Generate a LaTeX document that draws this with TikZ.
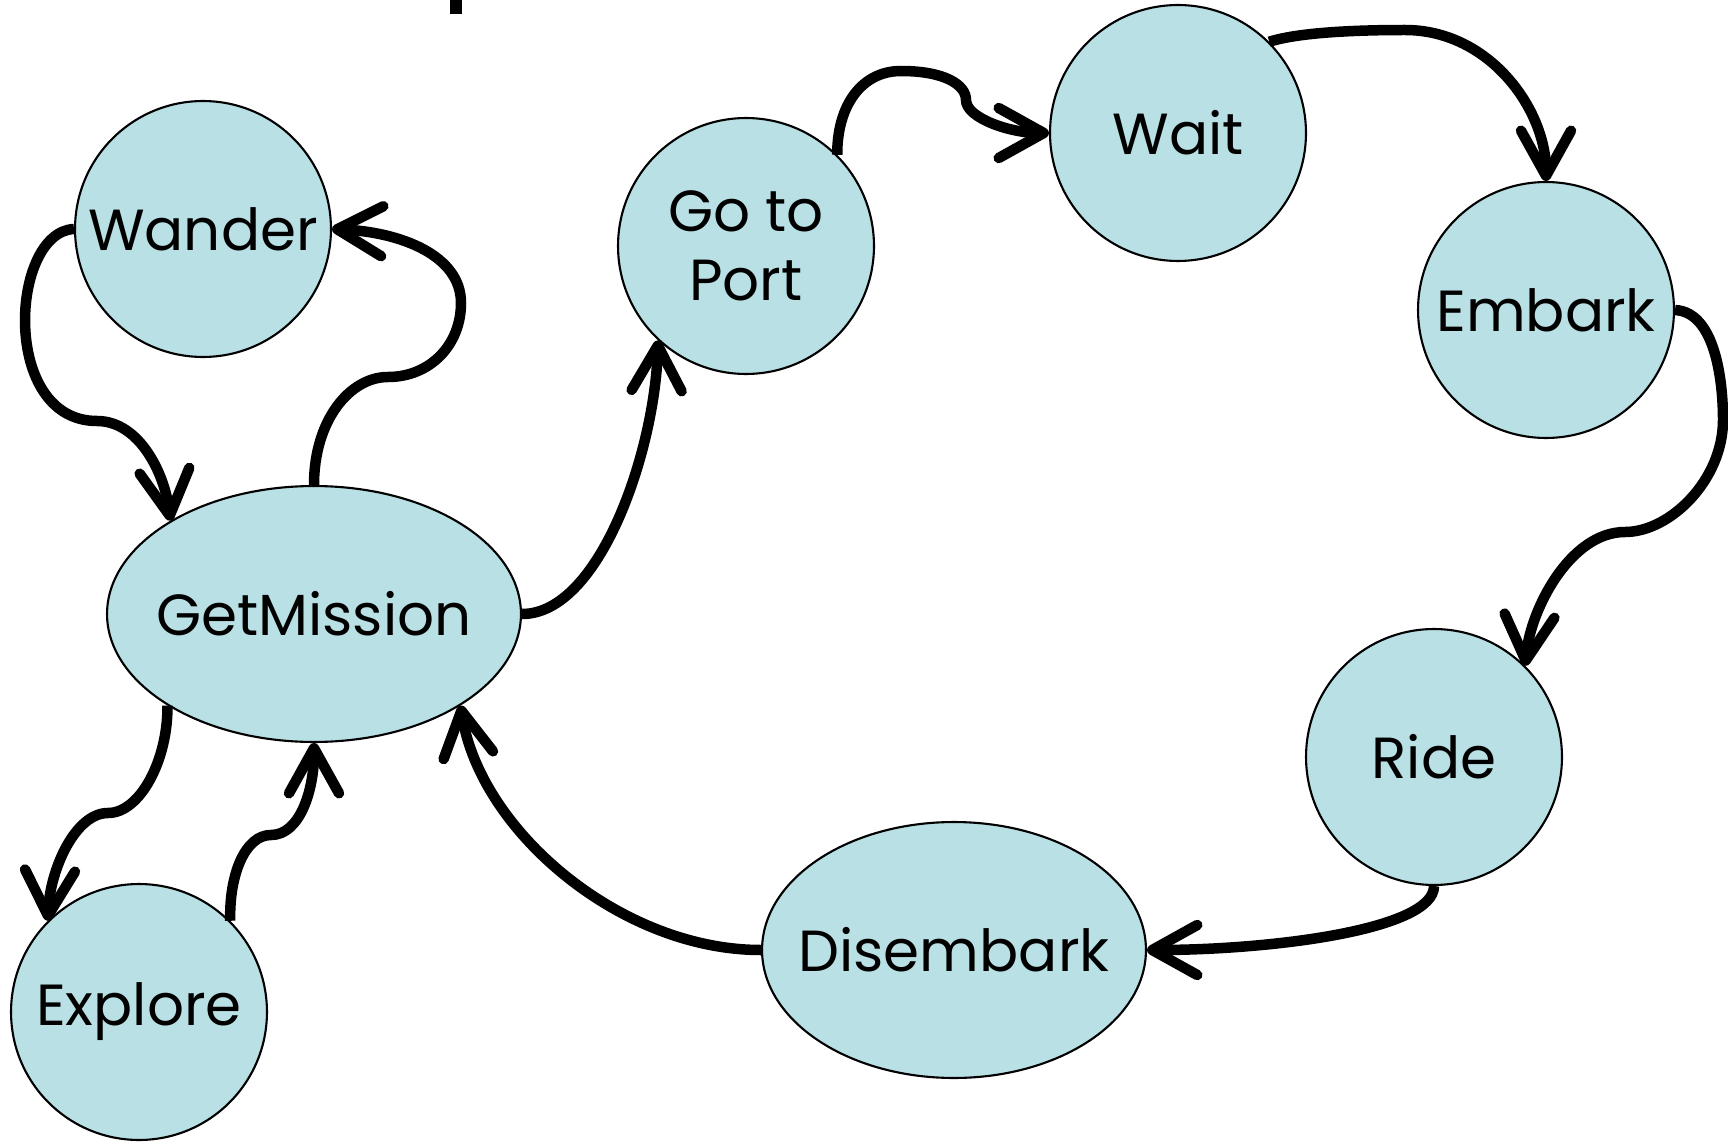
\documentclass[tikz,border=0pt]{standalone}
\usepackage{fontspec}
\setmainfont{Poppins}
\usetikzlibrary{shapes.geometric,arrows.meta}
\definecolor{statefill}{RGB}{185,224,228}

\begin{document}
\begin{tikzpicture}[x=0.02cm,y=-0.02cm,font=\fontsize{33}{39}\selectfont]
\tikzset{state/.style = {shape=circle,draw,line width=1.2pt,fill=statefill,inner sep=0pt,minimum size=5.12cm}}
\tikzset{oval/.style = {shape=ellipse,draw,line width=1.2pt,fill=statefill,inner sep=0pt,minimum height=5.12cm}}
\tikzset{trans/.style = {line width=0.21cm,-{Straight Barb[length=0.9cm,width=1cm,line cap=round,line join=round]}}}
\useasboundingbox (0,0) rectangle (1728,1142);
% cut-off stroke at the top edge
\fill (450,0) rectangle (462,14);
\node[state] (wander) at (203,229) {Wander};
\node[oval,minimum width=8.28cm,label=center:GetMission] (getmission) at (314,614) {};
\node[state] (explore) at (139,1012) {Explore};
\node[state,align=center] (gotoport) at (746,246) {Go to\\Port};
\node[state] (wait) at (1178,133) {Wait};
\node[state] (embark) at (1546,310) {Embark};
\node[state] (ride) at (1434,757) {Ride};
\node[oval,minimum width=7.68cm,label=center:Disembark] (disembark) at (954,950) {};
\draw[trans] (wander.west) .. controls (10,232) and (0,421) .. (97,421)
  .. controls (140,421) and (165,475) .. (getmission.147);
\draw[trans] (getmission.north) .. controls (314,420) and (350,377) .. (388,377)
  .. controls (430,377) and (461,345) .. (461,303)
  .. controls (461,255) and (400,232) .. (wander.east);
\draw[trans] (getmission.212) .. controls (168,760) and (140,813) .. (108,813)
  .. controls (75,813) and (50,870) .. (explore.135);
\draw[trans] (explore.45) .. controls (229,875) and (245,835) .. (271,835)
  .. controls (300,835) and (314,790) .. (getmission.south);
\draw[trans] (getmission.east) .. controls (600,614) and (655,450) .. (gotoport.227);
\draw[trans] (gotoport.45) .. controls (837,105) and (862,71) .. (901,71)
  .. controls (945,71) and (966,85) .. (966,100)
  .. controls (966,118) and (1010,133) .. (wait.west);
\draw[trans] (wait.45) .. controls (1300,32) and (1360,30) .. (1405,30)
  .. controls (1490,30) and (1546,110) .. (embark.north);
\draw[trans] (embark.east) .. controls (1715,312) and (1723,380) .. (1723,420)
  .. controls (1723,480) and (1670,532) .. (1625,532)
  .. controls (1570,532) and (1530,610) .. (ride.45);
\draw[trans] (ride.south) .. controls (1434,930) and (1270,950) .. (disembark.east);
\draw[trans] (disembark.west) .. controls (620,950) and (480,830) .. (getmission.-32);
\end{tikzpicture}
\end{document}
